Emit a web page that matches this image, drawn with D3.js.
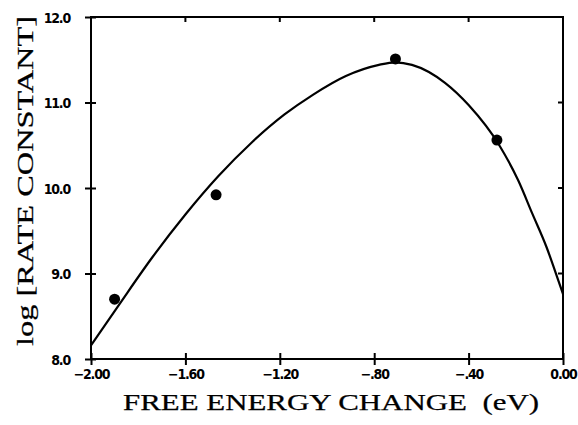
<!DOCTYPE html>
<html>
<head>
<meta charset="utf-8">
<script src="https://cdn.jsdelivr.net/npm/d3@7"></script>
<style>
  html, body { margin: 0; padding: 0; background: #fff; }
  svg { display: block; }
  .tick text { font-family: "Liberation Sans Narrow", "DejaVu Sans", Arial, sans-serif; font-stretch: condensed; font-weight: bold; font-size: 14px; letter-spacing: -1.2px; fill: #000; }
  .title { font-family: "Liberation Serif", "Times New Roman", serif; font-size: 24px; fill: #000; stroke: #000; stroke-width: 0.25px; white-space: pre; }
</style>
</head>
<body>
<script>
// measured rate constants
const expX = [-1.90, -1.47, -0.71, -0.28]
const expY = [8.70, 9.92, 11.51, 10.56]

// fitted curve
const fitX = [-2.00, -1.88, -1.74, -1.60, -1.46, -1.32, -1.18, -1.06, -0.92, -0.78, -0.71, -0.64, -0.50, -0.40, -0.27, -0.19, -0.13, -0.07, -0.02, 0.00]
const fitY = [8.16, 8.64, 9.19, 9.69, 10.14, 10.53, 10.86, 11.09, 11.31, 11.44, 11.47, 11.44, 11.23, 10.97, 10.50, 10.09, 9.70, 9.31, 8.92, 8.76]

const xTicks = [-2.0, -1.6, -1.2, -0.8, -0.4, 0.0]
const xTickLabels = ["\u22122.00", "\u22121.60", "\u22121.20", "\u2212.80", "\u2212.40", "0.00"]
const yTicks = [8, 9, 10, 11, 12]
const yTickLabels = ["8.0", "9.0", "10.0", "11.0", "12.0"]

const width = 578, height = 425
const m = {left: 91, right: 15, top: 17, bottom: 66}

const svg = d3.select("body")
    .append("svg")
    .attr("width", width)
    .attr("height", height)

const x = d3.scaleLinear().domain([-2, 0]).range([m.left, width - m.right])
const y = d3.scaleLinear().domain([8, 12]).range([height - m.bottom, m.top])

// frame
svg.append("rect")
    .attr("x", x(-2)).attr("y", y(12))
    .attr("width", x(0) - x(-2)).attr("height", y(8) - y(12))
    .attr("fill", "none").attr("stroke", "#000").attr("stroke-width", 2)

// bottom axis, ticks cross the line
const xAxis = svg.append("g")
    .attr("transform", `translate(0,${y(8)})`)
    .call(d3.axisBottom(x).tickValues(xTicks)
        .tickFormat((d, i) => xTickLabels[i]).tickSize(6).tickSizeOuter(0))
xAxis.select(".domain").remove()
xAxis.selectAll(".tick line").attr("y1", -6).attr("stroke-width", 2)
xAxis.selectAll(".tick text").attr("dy", null).attr("y", 20)

// left axis
const yAxis = svg.append("g")
    .attr("transform", `translate(${x(-2)},0)`)
    .call(d3.axisLeft(y).tickValues(yTicks)
        .tickFormat((d, i) => yTickLabels[i]).tickSize(6).tickSizeOuter(0))
yAxis.select(".domain").remove()
yAxis.selectAll(".tick line").attr("x1", 5).attr("stroke-width", 2)
yAxis.selectAll(".tick text").attr("x", -21).attr("dy", "0.38em")

// inner ticks on top and right
svg.append("g").selectAll("line")
    .data(xTicks.slice(1, -1))
    .join("line")
    .attr("x1", d => x(d)).attr("x2", d => x(d))
    .attr("y1", y(12)).attr("y2", y(12) + 5)
    .attr("stroke", "#000").attr("stroke-width", 2)

svg.append("g").selectAll("line")
    .data(yTicks.slice(1, -1))
    .join("line")
    .attr("x1", x(0)).attr("x2", x(0) - 5)
    .attr("y1", d => y(d)).attr("y2", d => y(d))
    .attr("stroke", "#000").attr("stroke-width", 2)

// curve
const line = d3.line()
    .x(d => x(d[0])).y(d => y(d[1]))
    .curve(d3.curveMonotoneX)

svg.append("path")
    .datum(fitX.map((v, i) => [v, fitY[i]]))
    .attr("d", line)
    .attr("fill", "none").attr("stroke", "#000").attr("stroke-width", 2.2)

// data points
svg.append("g").selectAll("circle")
    .data(expX.map((v, i) => [v, expY[i]]))
    .join("circle")
    .attr("cx", d => x(d[0])).attr("cy", d => y(d[1]))
    .attr("r", 5.5).attr("fill", "#000")

// axis titles
svg.append("text").attr("class", "title")
    .attr("x", 331).attr("y", 410)
    .attr("text-anchor", "middle")
    .attr("textLength", 416).attr("lengthAdjust", "spacingAndGlyphs")
    .text("FREE ENERGY CHANGE  (eV)")

svg.append("text").attr("class", "title")
    .attr("transform", "translate(33,181) rotate(-90)")
    .attr("text-anchor", "middle")
    .attr("textLength", 330).attr("lengthAdjust", "spacingAndGlyphs")
    .text("log [RATE CONSTANT]")
</script>
</body>
</html>
